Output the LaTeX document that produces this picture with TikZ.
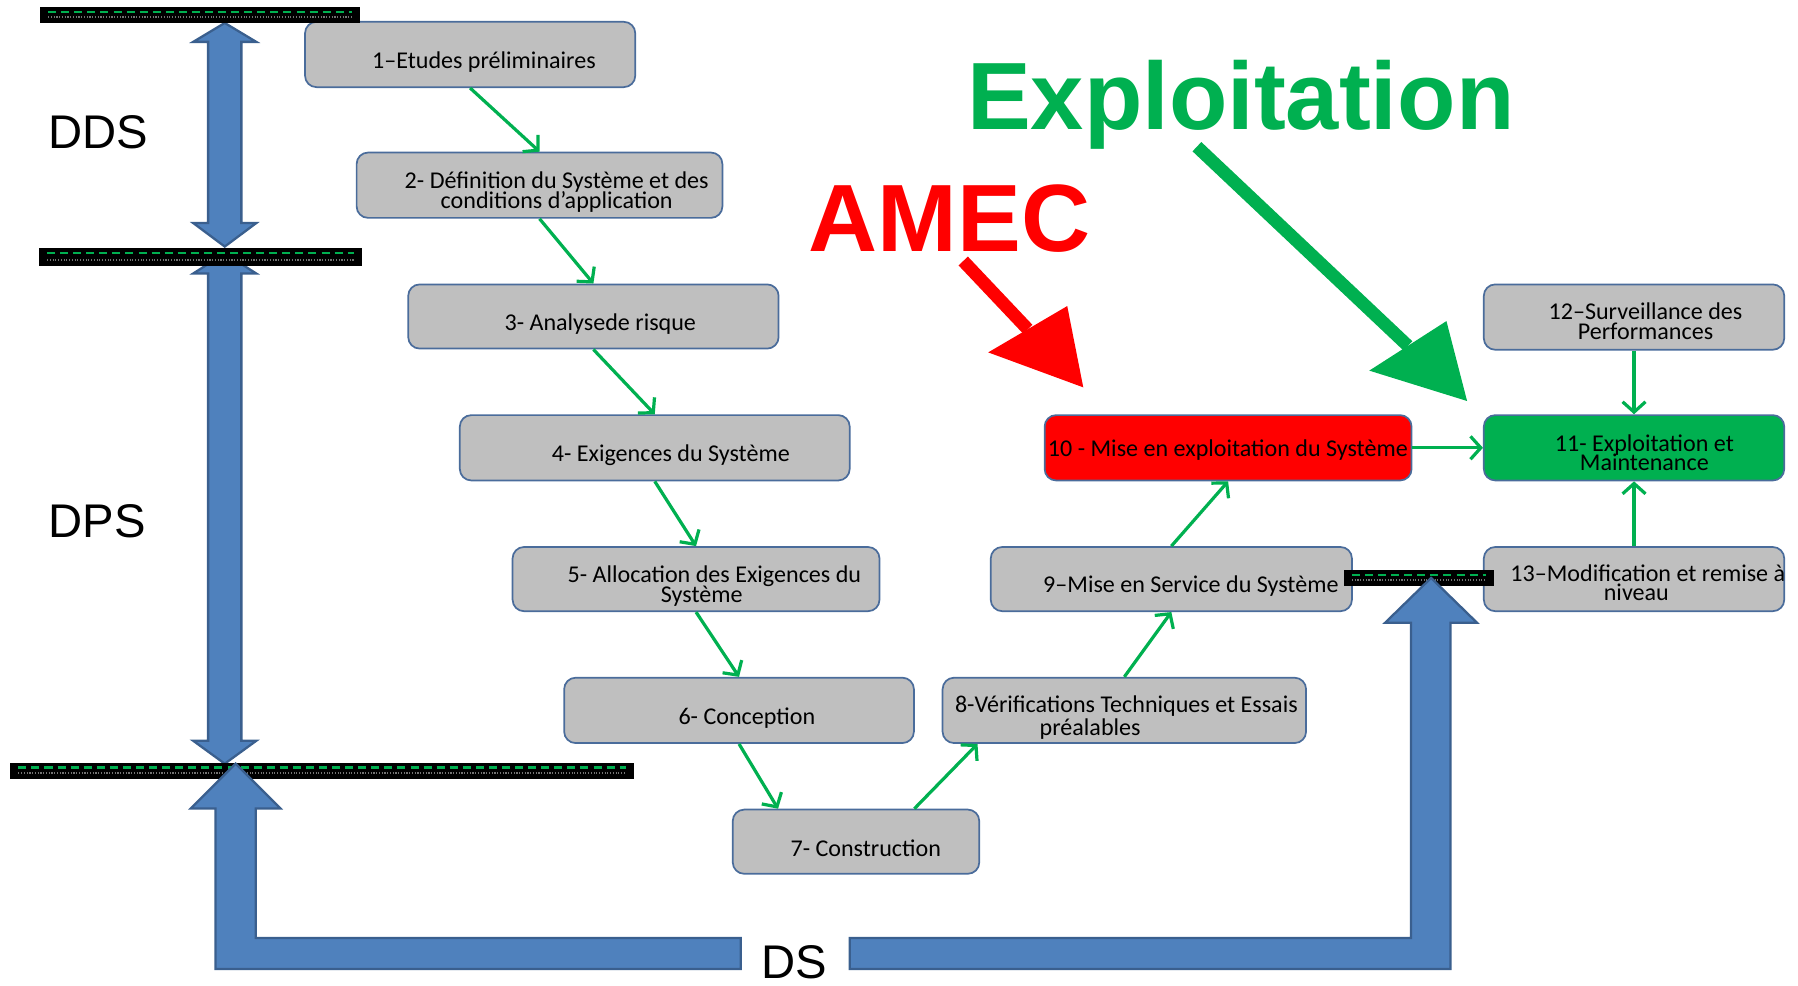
\documentclass[tikz,border=0pt]{standalone}
\usepackage{fontspec}
\setmainfont{Carlito}
\newfontfamily\headfont{Liberation Sans}
\usetikzlibrary{arrows.meta,fit,calc}

\definecolor{boxfill}{HTML}{BFBFBF}
\definecolor{boxedge}{HTML}{4A6C9B}
\definecolor{flowgreen}{HTML}{00B050}
\definecolor{alertred}{HTML}{FF0000}
\definecolor{bandblue}{HTML}{4F81BD}
\definecolor{bandedge}{HTML}{3A5F8E}

\tikzset{
  stage/.style={draw=boxedge, line width=0.75pt, fill=boxfill, rounded corners=5pt, inner sep=0pt},
  stagetext/.style={font=\fontsize{10.5pt}{8.6pt}\selectfont, align=center, inner sep=0pt, anchor=base},
  flow/.style={draw=flowgreen, line width=1.4pt, -{Straight Barb[length=4.5pt,width=10pt]}},
  phase/.style={font=\headfont\fontsize{20.6pt}{24pt}\selectfont, inner sep=0pt, anchor=base west},
  bigword/.style={font=\headfont\bfseries\fontsize{41.7pt}{48pt}\selectfont, inner sep=0pt, anchor=base west},
  bluearrow/.style={fill=bandblue, draw=bandedge, line width=1pt, line join=miter},
  pointer/.style={line width=5.6pt},
}

% black milestone band: x1 x2 y1 y2
\newcommand\stageband[4]{%
  \fill[black] (#1,#3) rectangle (#2,#4);
  \draw[flowgreen, line width=1pt, dash pattern=on 3.5pt off 2.2pt]
    (#1+7,{#3+0.3*(#4-#3)}) -- (#2-7,{#3+0.3*(#4-#3)});
  \draw[black!55, line width=0.8pt, dash pattern=on 0.5pt off 0.7pt]
    (#1+7,{#3+0.65*(#4-#3)}) -- (#2-7,{#3+0.65*(#4-#3)});
}

\begin{document}
\lineskiplimit=-20pt
\begin{tikzpicture}[x=0.5pt,y=-0.5pt]
\useasboundingbox (0,0) rectangle (1568,859);

% DDS and DPS double arrows
\draw[bluearrow] (196,20) -- (223.5,36.5) -- (210.5,36.5) -- (210.5,194.5) -- (223.5,194.5)
  -- (196,215) -- (168.5,194.5) -- (181.5,194.5) -- (181.5,36.5) -- (168.5,36.5) -- cycle;
\draw[bluearrow] (196,221) -- (223.5,238.5) -- (210.5,238.5) -- (210.5,646) -- (223.5,646)
  -- (196,666) -- (168.5,646) -- (181.5,646) -- (181.5,238.5) -- (168.5,238.5) -- cycle;

% stages
\node[stage, fit={(266,19) (554,76)}] (n1) {};
\node[stage, fit={(311,133) (630,190)}] (n2) {};
\node[stage, fit={(356,248) (679,304)}] (n3) {};
\node[stage, fit={(401,362) (741,419)}] (n4) {};
\node[stage, fit={(447,477) (767,533)}] (n5) {};
\node[stage, fit={(492,591) (797,648)}] (n6) {};
\node[stage, fit={(639,706) (854,762)}] (n7) {};
\node[stage, fit={(822,591) (1139,648)}] (n8) {};
\node[stage, fit={(864,477) (1179,533)}] (n9) {};
\node[stage, fit={(911,362) (1231,419)}, fill=alertred] (n10) {};
\node[stage, fit={(1294,362) (1556,419)}, fill=flowgreen] (n11) {};
\node[stage, fit={(1294,248) (1556,305)}] (n12) {};
\node[stage, fit={(1294,477) (1556,533)}] (n13) {};

% milestone bands
\stageband{35}{314}{6}{20}
\stageband{34}{316}{216}{232}
\stageband{9}{553}{665}{679}
\stageband{1172}{1303}{497}{511}

% DS arrow, split around its label
\draw[bluearrow] (205.5,666) -- (244.5,705) -- (223,705) -- (223,818) -- (646,818) -- (646,845)
  -- (188,845) -- (188,705) -- (166.5,705) -- cycle;
\draw[bluearrow] (741,818) -- (1230.5,818) -- (1230.5,543) -- (1208,543) -- (1248,504)
  -- (1288,543) -- (1265,543) -- (1265,845) -- (741,845) -- cycle;

% stage texts (two-line texts are placed by their second baseline)
\node[stagetext] (t1) at (422,59.5) {1–Etudes préliminaires};
\node[stagetext] (t2) at (485.5,181.5) {2- Définition du Système et des\\conditions d’application};
\node[stagetext] (t3) at (523.5,288) {3- Analysede risque};
\node[stagetext] (t4) at (585,402.5) {4- Exigences du Système};
\node[stagetext] (t5) at (623,525) {5- Allocation des Exigences du\\\hspace*{-11pt}Système};
\node[stagetext] (t6) at (651.3,632) {6- Conception};
\node[stagetext] (t7) at (755,746.5) {7- Construction};
\node[stagetext] (t8) at (982.3,641.5) {8-Vérifications Techniques et Essais\\[1.5pt]\hspace*{-31.6pt}préalables};
\node[stagetext] (t9) at (1038.5,517) {9–Mise en Service du Système};
\node[stagetext] (t10) at (1070.8,398.5) {10 - Mise en exploitation du Système};
\node[stagetext] (t11) at (1434,410.5) {11- Exploitation et\\Maintenance};
\node[stagetext] (t12) at (1435,296) {12–Surveillance des\\Performances};
\node[stagetext] (t13) at (1437,524) {13–Modification et remise à\\\hspace*{-10pt}niveau};

% flow
\draw[flow] (n1.south) -- (n2.north);
\draw[flow] (n2.south) -- (n3.north);
\draw[flow] (n3.south) -- (n4.north);
\draw[flow] (n4.south) -- (n5.north);
\draw[flow] (n5.south) -- (n6.north);
\draw[flow] (n6.south) -- ($(n7.north west)!0.186!(n7.north east)$);
\draw[flow] ($(n7.north west)!0.735!(n7.north east)$) -- ($(n8.south west)!0.098!(n8.south east)$);
\draw[flow] (n8.north) -- (n9.south);
\draw[flow] (n9.north) -- (n10.south);
\draw[flow] (n10.east) -- (n11.west);
\draw[flow] (n12.south) -- (n11.north);
\draw[flow] (n13.north) -- (n11.south);

% phase labels
\node[phase] (dds) at (42,129.5) {DDS};
\node[phase] (dps) at (42,469) {DPS};
\node[phase] (ds) at (664,853) {DS};

% headline words and their pointers
\node[bigword, text=flowgreen] (expl) at (843,112.5) {Exploitation};
\node[bigword, text=alertred] (amec) at (705,219.5) {AMEC};

\coordinate (amecA) at (840,227.6);
\coordinate (amecB) at (896.3,287.1);
\coordinate (amecTip) at (944.7,337.8);
\draw[pointer, alertred] (amecA) -- (amecB);
\fill[alertred] (861.8,307.3) -- (930.7,266.9) -- (amecTip) -- cycle;

\coordinate (explA) at (1043.8,127.9);
\coordinate (explB) at (1227.8,301.6);
\coordinate (explTip) at (1279.4,349.7);
\draw[pointer, flowgreen] (explA) -- (explB);
\fill[flowgreen] (1194.1,323.2) -- (1261.4,280) -- (explTip) -- cycle;
\end{tikzpicture}
\end{document}
